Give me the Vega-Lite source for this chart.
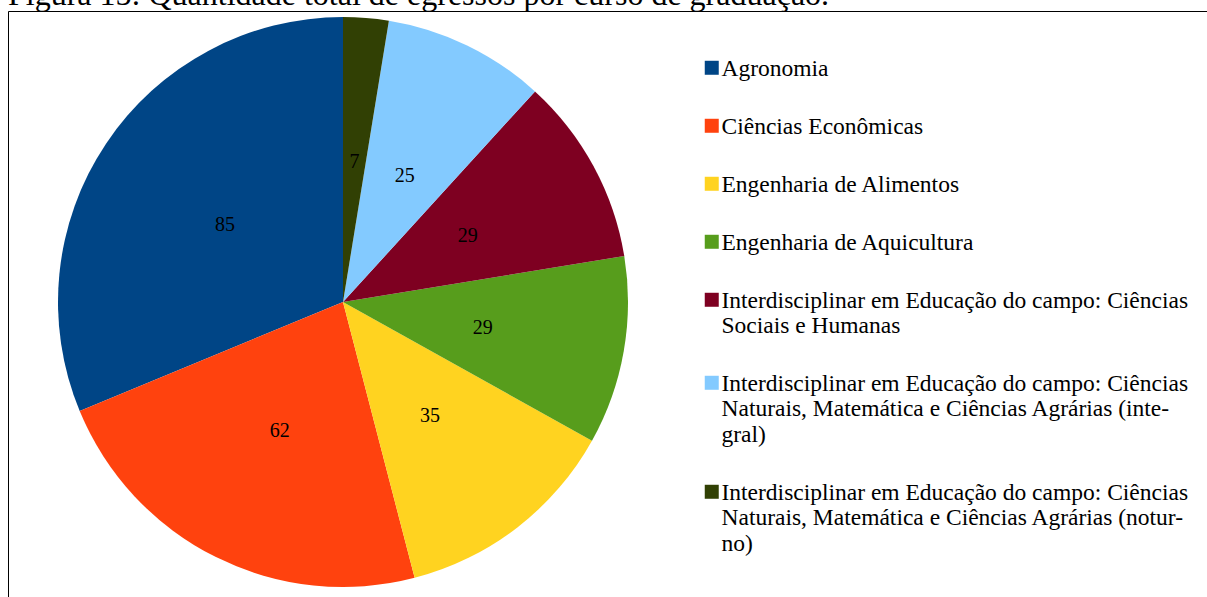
{
  "$schema": "https://vega.github.io/schema/vega-lite/v6.json",
  "autosize": {"type": "none"},
  "width": 1202,
  "height": 589,
  "padding": {"left": 8, "top": 11, "right": -3, "bottom": -3},
  "view": {"stroke": "black", "strokeWidth": 1, "fill": null},
  "title": {
    "text": "Figura 15: Quantidade total de egressos por curso de graduação.",
    "anchor": "start",
    "frame": "group",
    "font": "Liberation Serif",
    "fontSize": 32,
    "fontWeight": "normal",
    "color": "black",
    "offset": 0,
    "dy": 1.2,
    "dx": 0
  },
  "data": {
    "values": [
      {"curso": "Agronomia", "egressos": 85, "ordem": 1},
      {"curso": "Ciências Econômicas", "egressos": 62, "ordem": 2},
      {"curso": "Engenharia de Alimentos", "egressos": 35, "ordem": 3},
      {"curso": "Engenharia de Aquicultura", "egressos": 29, "ordem": 4},
      {"curso": "Interdisciplinar em Educação do campo: Ciências Sociais e Humanas", "egressos": 29, "ordem": 5},
      {"curso": "Interdisciplinar em Educação do campo: Ciências Naturais, Matemática e Ciências Agrárias (integral)", "egressos": 25, "ordem": 6},
      {"curso": "Interdisciplinar em Educação do campo: Ciências Naturais, Matemática e Ciências Agrárias (noturno)", "egressos": 7, "ordem": 7}
    ]
  },
  "encoding": {
    "theta": {"field": "egressos", "type": "quantitative", "stack": true},
    "order": {"field": "ordem", "type": "quantitative", "sort": "descending"}
  },
  "layer": [
    {
      "mark": {"type": "arc", "outerRadius": 285, "x": 335, "y": 291},
      "encoding": {
        "color": {
          "field": "curso",
          "type": "nominal",
          "scale": {
            "domain": [
              "Agronomia",
              "Ciências Econômicas",
              "Engenharia de Alimentos",
              "Engenharia de Aquicultura",
              "Interdisciplinar em Educação do campo: Ciências Sociais e Humanas",
              "Interdisciplinar em Educação do campo: Ciências Naturais, Matemática e Ciências Agrárias (integral)",
              "Interdisciplinar em Educação do campo: Ciências Naturais, Matemática e Ciências Agrárias (noturno)"
            ],
            "range": ["#004586", "#ff420e", "#ffd320", "#579d1c", "#7e0021", "#83caff", "#314004"]
          },
          "legend": {
            "title": null,
            "orient": "none",
            "legendX": 692,
            "legendY": 53,
            "symbolType": "M-1,-2.14H1V-0.14H-1Z",
            "symbolSize": 196,
            "symbolStrokeWidth": 0,
            "symbolOpacity": 1,
            "labelFont": "Liberation Serif",
            "labelFontSize": 23.5,
            "labelLineHeight": 23.5,
            "labelColor": "black",
            "labelBaseline": "alphabetic",
            "labelOffset": -2,
            "labelLimit": 0,
            "rowPadding": 33,
            "labelExpr": "datum.label == 'Interdisciplinar em Educação do campo: Ciências Sociais e Humanas' ? ['Interdisciplinar em Educação do campo: Ciências', 'Sociais e Humanas'] : datum.label == 'Interdisciplinar em Educação do campo: Ciências Naturais, Matemática e Ciências Agrárias (integral)' ? ['Interdisciplinar em Educação do campo: Ciências', 'Naturais, Matemática e Ciências Agrárias (inte-', 'gral)'] : datum.label == 'Interdisciplinar em Educação do campo: Ciências Naturais, Matemática e Ciências Agrárias (noturno)' ? ['Interdisciplinar em Educação do campo: Ciências', 'Naturais, Matemática e Ciências Agrárias (notur-', 'no)'] : datum.label"
          }
        }
      }
    },
    {
      "mark": {"type": "text", "radius": 142, "x": 335, "y": 291, "dy": 2, "font": "Liberation Serif", "fontSize": 20, "color": "black", "align": "center", "baseline": "middle"},
      "encoding": {"text": {"field": "egressos", "type": "quantitative"}}
    }
  ],
  "config": {
    "view": {"stroke": "black", "strokeWidth": 1}
  }
}
